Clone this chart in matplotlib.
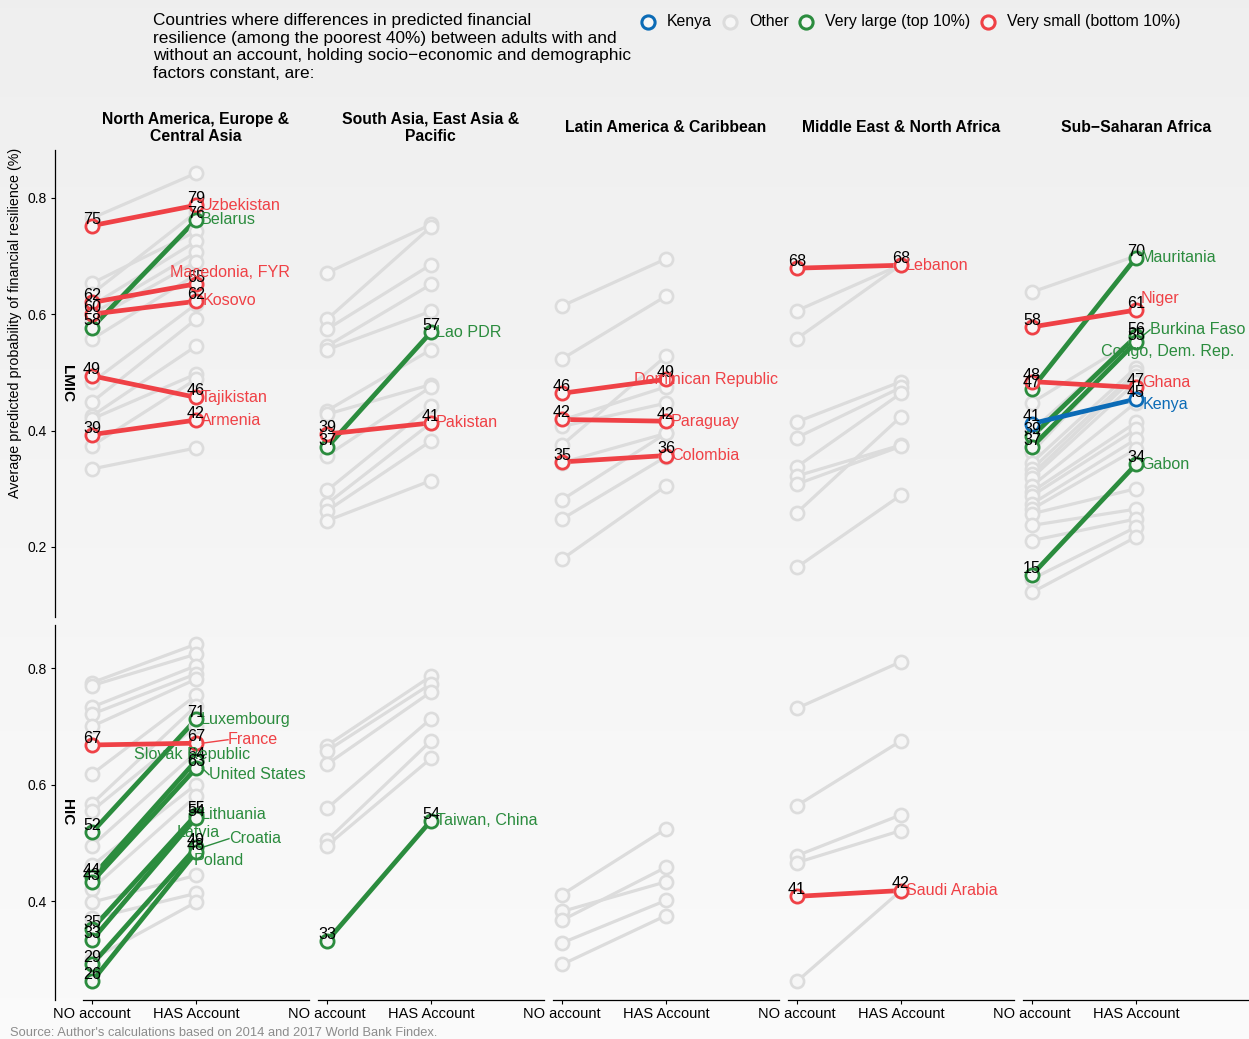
import numpy as np
import matplotlib.pyplot as plt
from matplotlib.lines import Line2D

plt.rcParams['font.family'] = ['Liberation Sans', 'DejaVu Sans']

# facets
regions = ['North America, Europe &\nCentral Asia', 'South Asia, East Asia &\nPacific',
           'Latin America & Caribbean', 'Middle East & North Africa', 'Sub\u2212Saharan Africa']
groups = ['LMIC', 'HIC']
x_labels = ['NO account', 'HAS Account']

# highlighted countries
hl_name = ['Uzbekistan', 'Belarus', 'Macedonia, FYR', 'Kosovo', 'Tajikistan', 'Armenia',
           'Lao PDR', 'Pakistan',
           'Dominican Republic', 'Paraguay', 'Colombia',
           'Lebanon',
           'Mauritania', 'Niger', 'Burkina Faso', 'Congo, Dem. Rep.', 'Ghana', 'Kenya', 'Gabon',
           'Luxembourg', 'France', 'Slovak Republic', 'United States', 'Lithuania', 'Latvia',
           'Croatia', 'Poland',
           'Taiwan, China',
           'Saudi Arabia']
hl_group = ['LMIC'] * 19 + ['HIC'] * 10
hl_region = [0, 0, 0, 0, 0, 0, 1, 1, 2, 2, 2, 3, 4, 4, 4, 4, 4, 4, 4,
             0, 0, 0, 0, 0, 0, 0, 0, 1, 3]
hl_kind = ['small', 'large', 'small', 'small', 'small', 'small',
           'large', 'small',
           'small', 'small', 'small',
           'small',
           'large', 'small', 'large', 'large', 'small', 'kenya', 'large',
           'large', 'small', 'large', 'large', 'large', 'large', 'large', 'large',
           'large',
           'small']
hl_no = [0.752, 0.577, 0.620, 0.600, 0.494, 0.393,
         0.371, 0.394,
         0.464, 0.419, 0.346,
         0.679,
         0.472, 0.578, 0.390, 0.372, 0.484, 0.412, 0.152,
         0.518, 0.668, 0.441, 0.433, 0.352, 0.333, 0.291, 0.262,
         0.331,
         0.408]
hl_has = [0.787, 0.762, 0.652, 0.622, 0.457, 0.418,
          0.569, 0.413,
          0.488, 0.416, 0.357,
          0.684,
          0.697, 0.607, 0.562, 0.552, 0.474, 0.454, 0.342,
          0.712, 0.671, 0.641, 0.628, 0.548, 0.543, 0.492, 0.484,
          0.538,
          0.418]

# other countries, one list pair per facet
lmic_eca_no = [0.765, 0.653, 0.635, 0.615, 0.600, 0.590, 0.557, 0.483, 0.449, 0.425, 0.420, 0.374, 0.334]
lmic_eca_has = [0.842, 0.742, 0.775, 0.725, 0.706, 0.690, 0.668, 0.617, 0.591, 0.545, 0.497, 0.488, 0.370]
lmic_sap_no = [0.671, 0.591, 0.574, 0.545, 0.539, 0.434, 0.428, 0.357, 0.297, 0.274, 0.262, 0.245]
lmic_sap_has = [0.754, 0.750, 0.685, 0.651, 0.605, 0.539, 0.479, 0.475, 0.442, 0.413, 0.382, 0.314]
lmic_lac_no = [0.614, 0.523, 0.418, 0.407, 0.375, 0.345, 0.281, 0.248, 0.179]
lmic_lac_has = [0.695, 0.631, 0.475, 0.447, 0.528, 0.395, 0.395, 0.355, 0.305]
lmic_mena_no = [0.606, 0.558, 0.415, 0.388, 0.338, 0.322, 0.308, 0.259, 0.165]
lmic_mena_has = [0.685, 0.685, 0.484, 0.474, 0.464, 0.375, 0.373, 0.424, 0.289]
lmic_ssa_no = [0.638, 0.448, 0.400, 0.363, 0.345, 0.334, 0.325, 0.319, 0.305, 0.295, 0.288,
               0.274, 0.265, 0.257, 0.237, 0.211, 0.145, 0.122]
lmic_ssa_has = [0.700, 0.557, 0.560, 0.554, 0.508, 0.500, 0.494, 0.483, 0.448, 0.414, 0.402,
                0.385, 0.368, 0.300, 0.265, 0.248, 0.234, 0.217]
hic_eca_no = [0.775, 0.770, 0.733, 0.721, 0.700, 0.618, 0.567, 0.555, 0.495, 0.461, 0.421, 0.398, 0.370, 0.300]
hic_eca_has = [0.841, 0.824, 0.804, 0.790, 0.781, 0.753, 0.735, 0.700, 0.655, 0.600, 0.580, 0.444, 0.413, 0.398]
hic_sap_no = [0.667, 0.658, 0.635, 0.559, 0.504, 0.495]
hic_sap_has = [0.786, 0.773, 0.759, 0.713, 0.675, 0.645]
hic_lac_no = [0.411, 0.382, 0.367, 0.328, 0.291]
hic_lac_has = [0.524, 0.433, 0.458, 0.401, 0.375]
hic_mena_no = [0.731, 0.564, 0.478, 0.466, 0.262]
hic_mena_has = [0.811, 0.675, 0.548, 0.521, 0.418]
hic_ssa_no = []
hic_ssa_has = []

others = {
    ('LMIC', 0): (lmic_eca_no, lmic_eca_has), ('LMIC', 1): (lmic_sap_no, lmic_sap_has),
    ('LMIC', 2): (lmic_lac_no, lmic_lac_has), ('LMIC', 3): (lmic_mena_no, lmic_mena_has),
    ('LMIC', 4): (lmic_ssa_no, lmic_ssa_has),
    ('HIC', 0): (hic_eca_no, hic_eca_has), ('HIC', 1): (hic_sap_no, hic_sap_has),
    ('HIC', 2): (hic_lac_no, hic_lac_has), ('HIC', 3): (hic_mena_no, hic_mena_has),
    ('HIC', 4): (hic_ssa_no, hic_ssa_has),
}

colors = {'kenya': '#0B6BB6', 'other': '#DCDCDC', 'large': '#2B8C3E', 'small': '#EF4146'}
legend_text = [('kenya', 'Kenya'), ('other', 'Other'), ('large', 'Very large (top 10%)'),
               ('small', 'Very small (bottom 10%)')]

# repelled label spots (x, y in data units) and whether a leader segment is drawn
label_spot = {
    'Macedonia, FYR': (1.75, 0.671, False), 'Kosovo': (2.06, 0.624, True),
    'Dominican Republic': (1.69, 0.487, False),
    'Niger': (2.048, 0.627, False), 'Burkina Faso': (2.135, 0.573, True),
    'Congo, Dem. Rep.': (1.663, 0.535, False), 'Ghana': (2.058, 0.483, False),
    'Kenya': (2.067, 0.444, False),
    'France': (2.308, 0.677, True), 'Slovak Republic': (1.404, 0.651, False),
    'United States': (2.125, 0.617, True), 'Latvia': (1.817, 0.517, False),
    'Croatia': (2.317, 0.507, True), 'Poland': (1.98, 0.469, False),
}

W, H = 1249, 1039
fig = plt.figure(figsize=(W / 100, H / 100), dpi=100)

# soft vertical gradient behind everything
bg = fig.add_axes([0, 0, 1, 1], zorder=-10)
shade = np.linspace(0.937, 0.982, 256)[:, None, None] * np.ones((1, 2, 3))
bg.imshow(shade, aspect='auto', extent=[0, 1, 0, 1], origin='upper')
bg.axis('off')
face = '#f6f6f6'


def px_axes(x0, y0, x1, y1):
    return fig.add_axes([x0 / W, 1 - y1 / H, (x1 - x0) / W, (y1 - y0) / H])


col_left = [82.5, 317.5, 552.5, 787.5, 1022.5]
col_w = 226.5
row_span = {'LMIC': (150, 617), 'HIC': (625, 1000)}
row_ylim = {'LMIC': (0.0796, 0.882), 'HIC': (0.230, 0.874)}
row_ticks = {'LMIC': [0.2, 0.4, 0.6, 0.8], 'HIC': [0.4, 0.6, 0.8]}
xlim = (1 - 9.5 / 104, 2 + 113 / 104)
lab_size = 11.6

for g in groups:
    y0, y1 = row_span[g]
    for r in range(5):
        ax = px_axes(col_left[r], y0, col_left[r] + col_w, y1)
        ax.set_facecolor('none')
        ax.set_xlim(*xlim)
        ax.set_ylim(*row_ylim[g])
        for s in ax.spines.values():
            s.set_visible(False)
        if r == 0:
            ax.spines['left'].set_visible(True)
            ax.spines['left'].set_position(('outward', 27.5 * 0.72))
            ax.spines['left'].set_linewidth(0.9)
            ax.set_yticks(row_ticks[g])
            ax.set_yticklabels([f'{t:.1f}' for t in row_ticks[g]])
            ax.tick_params(axis='y', length=3, width=0.8, pad=3, labelsize=10)
        else:
            ax.set_yticks([])
        if g == 'HIC':
            ax.spines['bottom'].set_visible(True)
            ax.spines['bottom'].set_linewidth(0.9)
            ax.set_xticks([1, 2])
            ax.set_xticklabels(x_labels)
            ax.tick_params(axis='x', length=3, width=0.8, pad=2, labelsize=10.5)
        else:
            ax.set_xticks([])

        # grey background lines
        no, has = others[(g, r)]
        for a, b in zip(no, has):
            ax.plot([1, 2], [a, b], color=colors['other'], lw=2.3, zorder=2,
                    solid_capstyle='butt')
        for a, b in zip(no, has):
            ax.plot([1, 2], [a, b], ls='none', marker='o', ms=9.5, mfc=face,
                    mec=colors['other'], mew=1.9, zorder=4)

        # highlighted countries
        idx = [i for i in range(len(hl_name)) if hl_group[i] == g and hl_region[i] == r]
        for i in idx:
            c = colors[hl_kind[i]]
            ax.plot([1, 2], [hl_no[i], hl_has[i]], color=c, lw=3.4, zorder=3,
                    solid_capstyle='butt')
            ax.plot([1, 2], [hl_no[i], hl_has[i]], ls='none', marker='o', ms=9.5,
                    mfc=face, mec=c, mew=2.0, zorder=5)
        for i in idx:
            c = colors[hl_kind[i]]
            for xv, v in ((1, hl_no[i]), (2, hl_has[i])):
                ax.annotate(f'{round(v * 100):.0f}', (xv, v), xytext=(0, 1.5),
                            textcoords='offset points', ha='center', va='baseline',
                            fontsize=lab_size, color='black', zorder=6)
            if hl_name[i] in label_spot:
                lx, ly, leader = label_spot[hl_name[i]]
                ax.text(lx, ly, hl_name[i], color=c, fontsize=lab_size, ha='left',
                        va='center', zorder=6)
                if leader:
                    ax.plot([2.06, lx], [hl_has[i], ly], color=c, lw=1.0, zorder=6)
            else:
                ax.text(2.048, hl_has[i], hl_name[i], color=c, fontsize=lab_size,
                        ha='left', va='center', zorder=6)

# facet strips
for r, name in enumerate(regions):
    fig.text((col_left[r] + col_w / 2) / W, 1 - 128 / H, name, ha='center',
             va='center', fontsize=11.3, fontweight='bold', linespacing=1.22)
for g in groups:
    y0, y1 = row_span[g]
    fig.text(67 / W, 1 - (y0 + y1) / 2 / H, g, rotation=-90, ha='center', va='center',
             fontsize=11, fontweight='bold')

fig.text(15 / W, 1 - 323 / H, 'Average predicted probability of financial resilience (%)',
         rotation=90, ha='center', va='center', fontsize=10.3)

title = ('Countries where differences in predicted financial\n'
         'resilience (among the poorest 40%) between adults with and\n'
         'without an account, holding socio\u2212economic and demographic\n'
         'factors constant, are:')
fig.text(153 / W, 1 - 13 / H, title, ha='left', va='top', fontsize=12.4, linespacing=1.21)

# legend
leg_marker_x = [648, 730, 806, 988]
for (key, lab), mx in zip(legend_text, leg_marker_x):
    fig.add_artist(Line2D([mx / W], [1 - 21.5 / H], marker='o', ms=9.5, mfc=face,
                          mec=colors[key], mew=2.2, ls='none'))
    fig.text((mx + 19) / W, 1 - 21.5 / H, lab, ha='left', va='center', fontsize=11.4)

fig.text(10 / W, 1 - 1033 / H,
         "Source: Author's calculations based on 2014 and 2017 World Bank Findex.",
         ha='left', va='center', fontsize=9.3, color='#8c8c8c')

fig.savefig('out.png', dpi=100)
